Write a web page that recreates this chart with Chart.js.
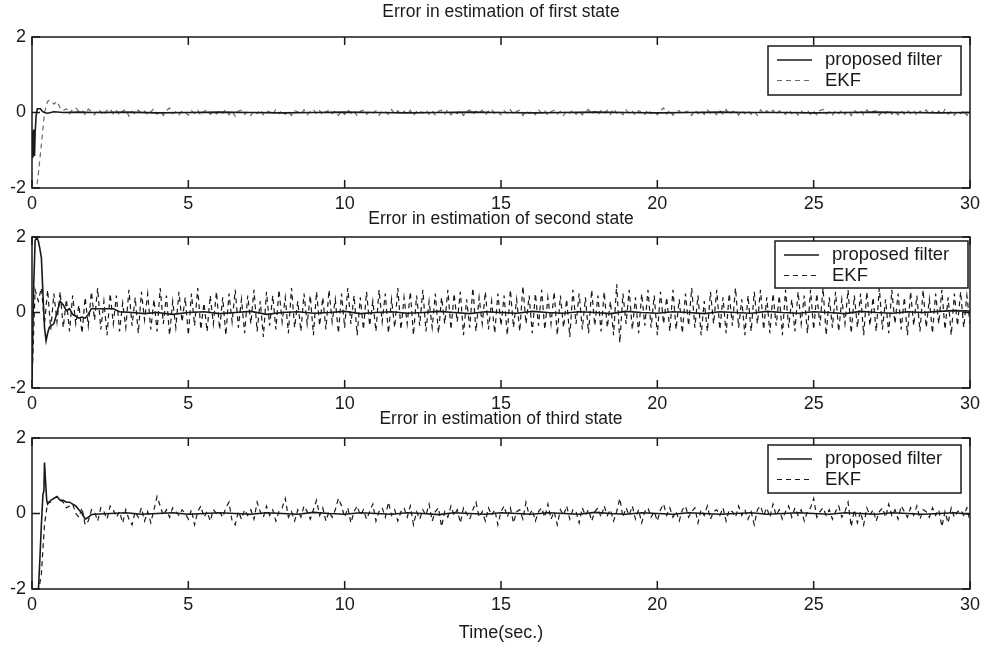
<!DOCTYPE html>
<html>
<head>
<meta charset="utf-8">
<title>Error in estimation of states</title>
<script src="https://cdn.jsdelivr.net/npm/chart.js@4.4.1/dist/chart.umd.min.js"></script>
<style>
    html, body { margin: 0; padding: 0; background: #fff; }
    #wrap { position: relative; width: 982px; height: 655px; overflow: hidden; }
    #wrap canvas { position: absolute; left: 0; }
</style>
</head>
<body>
<div id="wrap">
    <canvas id="state1" width="982" height="216" style="top:2px"></canvas>
    <canvas id="state2" width="982" height="209" style="top:209px"></canvas>
    <canvas id="state3" width="982" height="240" style="top:409px"></canvas>
</div>
<script>
// sample interval of the EKF traces (s)
const SAMPLE_DT = 0.1;

const xTicks = [0, 5, 10, 15, 20, 25, 30];
const yTicks = [-2, 0, 2];
const legendLabels = ['proposed filter', 'EKF'];
const titles = [
    'Error in estimation of first state',
    'Error in estimation of second state',
    'Error in estimation of third state',
];
const xAxisLabel = 'Time(sec.)';

// EKF error, first state (one value every 0.1 s)
const ekf1 = [
    -2.6, -2.3, -1.65, -0.85, 0.0, 0.3, 0.32, 0.22, 0.3, 0.12,
    0.05, 0.1, -0.03, 0.08, 0.12, 0.02, 0.06, -0.05, 0.09, 0.03,
    -0.06, 0.08, 0.02, -0.08, 0.06, 0.1, -0.04, 0.05, -0.07, 0.04,
    0.08, -0.1, 0.03, -0.05, 0.06, -0.02, 0.04, -0.06, 0.02, 0.1,
    -0.04, 0.03, -0.08, 0.05, 0.12, -0.03, 0.02, -0.06, 0.04, 0.0,
    -0.07, 0.05, -0.03, 0.06, -0.08, 0.03, 0.07, -0.05, 0.02, -0.04,
    0.05, -0.02, 0.08, -0.06, 0.03, -0.1, 0.04, 0.06, -0.05, 0.02,
    -0.08, 0.05, -0.03, 0.07, -0.06, 0.04, 0.02, -0.07, 0.09, -0.03,
    0.06, -0.05, 0.03, -0.08, 0.05, 0.02, -0.04, 0.07, -0.06, 0.03,
    0.08, -0.04, 0.05, -0.07, 0.02, 0.06, -0.03, 0.04, -0.08, 0.05,
    -0.05, 0.07, -0.02, 0.04, -0.09, 0.03, 0.06, -0.05, 0.02, -0.03,
    0.05, -0.07, 0.04, 0.02, -0.05, 0.08, -0.03, 0.05, -0.06, 0.03,
    -0.04, 0.06, -0.08, 0.03, 0.05, -0.02, 0.07, -0.05, 0.04, -0.07,
    0.03, 0.06, -0.04, 0.08, -0.06, 0.02, -0.03, 0.05, -0.08, 0.04,
    0.07, -0.05, 0.03, -0.02, 0.06, -0.07, 0.04, 0.09, -0.04, 0.02,
    -0.06, 0.05, -0.03, 0.07, -0.05, 0.03, 0.06, -0.08, 0.04, -0.02,
    0.05, -0.06, 0.08, -0.03, 0.04, -0.07, 0.02, 0.06, -0.04, 0.03,
    -0.08, 0.05, -0.02, 0.07, -0.05, 0.04, -0.06, 0.03, 0.08, -0.04,
    0.03, -0.07, 0.05, -0.03, 0.06, -0.05, 0.1, -0.02, 0.04, -0.06,
    0.07, -0.04, 0.03, -0.08, 0.05, 0.02, -0.05, 0.08, -0.03, 0.04,
    -0.06, 0.05, 0.12, -0.04, 0.06, -0.07, 0.03, 0.05, -0.05, 0.02,
    0.04, -0.08, 0.06, -0.03, 0.05, -0.05, 0.07, -0.02, 0.03, -0.06,
    0.05, -0.04, 0.08, -0.06, 0.02, 0.05, -0.07, 0.04, -0.03, 0.06,
    -0.05, 0.03, -0.08, 0.07, -0.04, 0.05, -0.02, 0.06, -0.06, 0.04,
    0.02, -0.05, 0.07, -0.03, 0.05, -0.07, 0.04, -0.02, 0.06, -0.05,
    0.03, -0.06, 0.05, 0.08, -0.04, 0.02, -0.07, 0.05, -0.03, 0.06,
    -0.05, 0.04, -0.08, 0.06, -0.02, 0.05, -0.06, 0.07, -0.04, 0.03,
    0.05, -0.07, 0.04, -0.03, 0.08, -0.05, 0.02, -0.06, 0.05, -0.04,
    0.06, -0.03, 0.05, -0.08, 0.04, -0.02, 0.07, -0.05, 0.03, -0.06,
    0.04, -0.05, 0.08, -0.04, 0.03, -0.07, 0.05, -0.03, 0.06, -0.08,
    0.02,
];

// EKF error, second state
const ekf2 = [
    -1.8, 0.6, 0.3, 0.65, -0.3, 0.6, -0.45, 0.5, -0.25, 0.55,
    -0.4, 0.35, -0.5, 0.45, -0.3, 0.2, -0.55, 0.4, -0.35, 0.55,
    -0.2, 0.65, -0.45, 0.3, -0.6, 0.5, -0.3, 0.45, -0.5, 0.25,
    -0.4, 0.6, -0.35, 0.4, -0.55, 0.55, -0.2, 0.5, -0.45, 0.35,
    -0.5, 0.65, -0.3, 0.45, -0.6, 0.3, -0.4, 0.55, -0.25, 0.4,
    -0.6, 0.5, -0.35, 0.65, -0.45, 0.25, -0.5, 0.45, -0.3, 0.55,
    -0.45, 0.4, -0.6, 0.5, -0.25, 0.6, -0.4, 0.35, -0.55, 0.45,
    -0.3, 0.6, -0.5, 0.3, -0.65, 0.55, -0.35, 0.45, -0.45, 0.6,
    -0.25, 0.4, -0.55, 0.65, -0.4, 0.3, -0.5, 0.5, -0.3, 0.45,
    -0.6, 0.55, -0.35, 0.4, -0.45, 0.6, -0.25, 0.35, -0.55, 0.5,
    -0.4, 0.65, -0.3, 0.45, -0.6, 0.4, -0.45, 0.55, -0.35, 0.3,
    -0.5, 0.6, -0.25, 0.5, -0.55, 0.35, -0.4, 0.65, -0.45, 0.4,
    -0.3, 0.55, -0.6, 0.45, -0.35, 0.6, -0.5, 0.3, -0.4, 0.5,
    -0.55, 0.4, -0.3, 0.6, -0.45, 0.5, -0.25, 0.55, -0.6, 0.35,
    -0.4, 0.65, -0.5, 0.4, -0.3, 0.55, -0.45, 0.3, -0.55, 0.5,
    -0.35, 0.45, -0.6, 0.6, -0.4, 0.35, -0.5, 0.7, -0.3, 0.45,
    -0.55, 0.5, -0.35, 0.6, -0.45, 0.4, -0.3, 0.55, -0.6, 0.45,
    -0.4, 0.35, -0.65, 0.6, -0.3, 0.5, -0.45, 0.4, -0.55, 0.6,
    -0.35, 0.45, -0.5, 0.55, -0.4, 0.3, -0.6, 0.75, -0.8, 0.5,
    -0.3, 0.6, -0.45, 0.4, -0.55, 0.5, -0.35, 0.6, -0.4, 0.45,
    -0.6, 0.55, -0.3, 0.4, -0.5, 0.6, -0.45, 0.35, -0.55, 0.5,
    -0.35, 0.65, -0.4, 0.45, -0.6, 0.3, -0.5, 0.55, -0.3, 0.6,
    -0.45, 0.4, -0.55, 0.5, -0.35, 0.65, -0.4, 0.35, -0.6, 0.45,
    -0.5, 0.55, -0.3, 0.6, -0.45, 0.4, -0.55, 0.5, -0.35, 0.45,
    -0.6, 0.6, -0.4, 0.35, -0.5, 0.55, -0.3, 0.45, -0.55, 0.6,
    -0.45, 0.5, -0.35, 0.65, -0.6, 0.4, -0.4, 0.55, -0.5, 0.35,
    -0.3, 0.6, -0.55, 0.45, -0.4, 0.5, -0.6, 0.55, -0.35, 0.4,
    -0.5, 0.65, -0.45, 0.35, -0.55, 0.6, -0.3, 0.5, -0.45, 0.4,
    -0.6, 0.55, -0.35, 0.45, -0.5, 0.6, -0.4, 0.35, -0.55, 0.5,
    -0.3, 0.6, -0.45, 0.4, -0.6, 0.5, -0.35, 0.55, -0.4, 0.45,
    -0.3,
];

// EKF error, third state
const ekf3 = [
    -2.8, -2.5, -2.1, -1.6, -0.3, 0.3, 0.3, 0.4, 0.45, 0.35,
    0.3, 0.15, 0.2, 0.25, 0.0, -0.1, 0.15, -0.3, -0.2, 0.1,
    0.05, -0.2, 0.15, 0.05, -0.15, 0.2, 0.1, -0.1, 0.05, -0.25,
    0.1, -0.15, -0.3, 0.05, -0.1, 0.15, -0.2, 0.05, -0.25, 0.1,
    0.45, 0.2, -0.05, 0.1, -0.1, 0.15, 0.05, -0.05, 0.1, 0.0,
    -0.15, 0.1, -0.3, 0.05, 0.2, -0.1, 0.05, -0.2, 0.1, 0.0,
    0.05, -0.1, 0.15, 0.3, -0.2, -0.3, 0.05, -0.15, 0.1, -0.05,
    0.1, -0.15, 0.3, 0.05, -0.1, 0.2, -0.05, 0.1, -0.2, 0.05,
    0.15, 0.4, -0.1, 0.05, -0.2, 0.1, -0.1, 0.2, 0.05, -0.15,
    0.1, 0.35, -0.05, 0.15, -0.2, 0.05, -0.1, 0.1, 0.4, 0.2,
    -0.1, 0.15, -0.25, 0.05, 0.2, -0.05, 0.1, -0.15, 0.05, 0.25,
    -0.2, 0.05, 0.15, -0.1, 0.3, -0.05, 0.1, -0.2, 0.05, 0.15,
    -0.1, 0.2, -0.3, 0.05, -0.15, 0.1, -0.05, 0.25, -0.2, 0.05,
    0.15, -0.35, 0.05, -0.1, 0.2, -0.05, 0.1, -0.25, 0.15, 0.0,
    -0.15, 0.1, 0.3, -0.1, 0.05, -0.2, 0.15, -0.05, 0.1, -0.3,
    0.05, 0.2, -0.1, 0.15, -0.25, 0.05, 0.1, -0.15, 0.3, -0.05,
    0.1, -0.2, 0.05, 0.15, -0.1, 0.25, -0.15, 0.05, -0.3, 0.1,
    -0.05, 0.2, -0.15, 0.1, 0.05, -0.25, 0.15, -0.05, 0.1, -0.2,
    0.05, 0.15, -0.1, 0.2, -0.05, 0.1, -0.2, 0.05, 0.4, -0.1,
    0.15, -0.05, 0.2, -0.15, 0.1, -0.25, 0.05, 0.15, -0.1, 0.05,
    -0.2, 0.1, 0.25, -0.05, 0.15, -0.1, 0.05, -0.2, 0.1, 0.2,
    -0.1, 0.05, 0.15, -0.25, 0.1, -0.05, 0.2, -0.15, 0.05, 0.1,
    -0.05, 0.15, -0.2, 0.1, 0.05, -0.1, 0.2, -0.05, 0.1, -0.15,
    0.05, -0.3, 0.1, 0.2, -0.05, 0.15, -0.1, 0.25, -0.05, 0.1,
    -0.15, 0.05, 0.2, -0.1, 0.15, -0.05, 0.1, -0.2, 0.05, 0.15,
    0.4, -0.1, 0.05, 0.15, -0.05, 0.1, -0.15, 0.05, 0.2, -0.1,
    0.05, 0.3, -0.35, 0.1, -0.25, 0.05, -0.3, 0.15, -0.05, 0.1,
    -0.2, 0.05, 0.15, -0.1, 0.25, -0.05, 0.1, -0.15, 0.2, 0.05,
    -0.1, 0.15, -0.05, 0.2, -0.15, 0.1, 0.05, -0.1, 0.15, -0.05,
    0.1, -0.35, 0.05, -0.25, 0.15, -0.1, 0.05, 0.1, -0.05, 0.15,
    -0.2,
];

// proposed filter, first state (denser during the start-up transient)
const prop1Time = [
    0, 0.03, 0.05, 0.08, 0.1, 0.13, 0.17, 0.22, 0.27, 0.33, 0.4, 0.5, 0.7, 1.0, 1.5,
    2, 3, 4, 5, 6, 7, 8, 9, 10, 11, 12, 13, 14, 15, 16, 17, 18, 19, 20,
    21, 22, 23, 24, 25, 26, 27, 28, 29, 30,
];
const prop1 = [
    -0.5, -1.2, -0.45, -1.15, -0.55, -0.1, 0.1, 0.1, 0.1, 0.03, 0.0, -0.02, 0.02, 0.0, 0.01,
    0.0, 0.01, -0.01, 0.0, 0.01, 0.0, -0.01, 0.0, 0.01, 0.0, -0.01, 0.0, 0.01, 0.0, -0.01,
    0.0, 0.01, 0.0, -0.01, 0.0, 0.01, 0.0, 0.0, -0.01, 0.0, 0.01, 0.0, -0.01, 0.0,
];

// proposed filter, second state
const prop2Time = [
    0, 0.05, 0.1, 0.15, 0.2, 0.25, 0.3, 0.35, 0.4, 0.45, 0.5, 0.55, 0.6, 0.7, 0.8, 0.9,
    1.0, 1.1, 1.2, 1.3, 1.4, 1.5, 1.6, 1.7, 1.8, 1.9, 2.2, 2.6, 2.8, 3.2, 3.6,
    4, 4.5, 5, 5.5, 6, 6.5, 7, 7.5, 8, 8.5, 9, 9.5, 10, 10.5, 11, 11.5, 12, 12.5,
    13, 13.5, 14, 14.5, 15, 15.5, 16, 16.5, 17, 17.5, 18, 18.5, 19, 19.5, 20, 20.5,
    21, 21.5, 22, 22.5, 23, 23.5, 24, 24.5, 25, 25.5, 26, 26.5, 27, 27.5, 28, 28.5,
    29, 29.5, 30,
];
const prop2 = [
    -1.8, 0.6, 1.9, 2.0, 1.9, 1.7, 1.45, 0.5, -0.4, -0.75, -0.55, -0.4, -0.35, -0.3, 0.0, 0.3,
    0.2, 0.05, 0.1, -0.05, -0.1, -0.15, -0.12, -0.15, -0.05, 0.1, 0.1, 0.1, 0.02, 0.0, -0.03,
    0.0, -0.05, 0.0, 0.02, -0.03, 0.0, 0.03, -0.05, 0.0, 0.02, -0.02, 0.0, 0.03, -0.03,
    0.0, 0.02, -0.02, 0.0, 0.03, 0.0, -0.03, 0.02, 0.0, -0.02, 0.03, 0.0, -0.02, 0.02,
    0.0, -0.03, 0.03, 0.0, -0.02, 0.02, 0.0, -0.03, 0.02, 0.0, -0.02, 0.03, 0.0, -0.02,
    0.02, 0.0, -0.03, 0.03, 0.0, -0.02, 0.02, 0.0, 0.03, 0.05, 0.04,
];

// proposed filter, third state
const prop3Time = [
    0, 0.1, 0.2, 0.25, 0.3, 0.35, 0.38, 0.4, 0.43, 0.47, 0.5, 0.6, 0.7, 0.8, 0.9,
    1.0, 1.1, 1.2, 1.3, 1.4, 1.5, 1.6, 1.7, 1.8, 1.9, 2.0, 2.5, 3.0, 3.5,
    4, 4.5, 5, 5.5, 6, 6.5, 7, 7.5, 8, 8.5, 9, 9.5, 10, 10.5, 11, 11.5, 12, 12.5,
    13, 13.5, 14, 14.5, 15, 15.5, 16, 16.5, 17, 17.5, 18, 18.5, 19, 19.5, 20, 20.5,
    21, 21.5, 22, 22.5, 23, 23.5, 24, 24.5, 25, 25.5, 26, 26.5, 27, 27.5, 28, 28.5,
    29, 29.5, 30,
];
const prop3 = [
    -2.8, -2.5, -2.1, -1.25, -0.3, 0.5, 0.6, 1.35, 0.9, 0.35, 0.25, 0.35, 0.4, 0.45, 0.35,
    0.35, 0.3, 0.3, 0.25, 0.2, 0.1, 0.0, -0.15, -0.1, -0.03, -0.02, 0.0, 0.02, -0.02,
    0.0, 0.02, -0.02, 0.0, 0.02, 0.0, -0.02, 0.02, 0.0, -0.02, 0.03, 0.0, -0.02, 0.02,
    0.0, -0.02, 0.02, 0.0, -0.03, 0.02, 0.0, -0.02, 0.02, 0.0, -0.02, 0.02, 0.0, -0.02,
    0.03, 0.0, -0.02, 0.02, 0.0, -0.02, 0.02, 0.0, -0.02, 0.0, 0.02, -0.02, 0.0, 0.02,
    0.0, -0.02, 0.02, 0.0, -0.02, 0.02, 0.0, -0.02, 0.0, 0.02, -0.02, 0.0,
];

const FONT = "'Liberation Sans', Arial, Helvetica, sans-serif";
const INK = '#1a1a1a';

function toPoints(times, values) {
    return times.map(function (t, i) {
        return { x: t, y: values[i] };
    });
}

function ekfTimes(values) {
    return values.map(function (_, i) {
        return Math.round(i * SAMPLE_DT * 10) / 10;
    });
}

// box + inward tick marks on all four sides, the way matlab draws axes
const matlabAxes = {
    id: 'matlabAxes',
    afterDatasetsDraw(chart) {
        const ctx = chart.ctx;
        const a = chart.chartArea;
        const x = chart.scales.x;
        const y = chart.scales.y;
        ctx.save();
        ctx.strokeStyle = INK;
        ctx.lineWidth = 1.5;
        ctx.setLineDash([]);
        ctx.strokeRect(a.left, a.top, a.right - a.left, a.bottom - a.top);
        ctx.beginPath();
        x.ticks.forEach(function (t) {
            const px = x.getPixelForValue(t.value);
            ctx.moveTo(px, a.bottom);
            ctx.lineTo(px, a.bottom - 8);
            ctx.moveTo(px, a.top);
            ctx.lineTo(px, a.top + 8);
        });
        y.ticks.forEach(function (t) {
            const py = y.getPixelForValue(t.value);
            ctx.moveTo(a.left, py);
            ctx.lineTo(a.left + 8, py);
            ctx.moveTo(a.right, py);
            ctx.lineTo(a.right - 8, py);
        });
        ctx.stroke();
        ctx.restore();
    },
};

// framed legend sitting inside the plot, top right
const boxLegend = {
    id: 'boxLegend',
    afterDraw(chart, args, opts) {
        const ctx = chart.ctx;
        const a = chart.chartArea;
        const left = a.right - opts.right - opts.width;
        const top = a.top + opts.top;
        ctx.save();
        ctx.fillStyle = '#fff';
        ctx.fillRect(left, top, opts.width, opts.height);
        ctx.strokeStyle = INK;
        ctx.lineWidth = 1.5;
        ctx.setLineDash([]);
        ctx.strokeRect(left, top, opts.width, opts.height);
        ctx.font = '18.5px ' + FONT;
        ctx.textBaseline = 'middle';
        ctx.textAlign = 'left';
        chart.data.datasets.forEach(function (ds, i) {
            const cy = top + 14 + i * 20.5;
            ctx.strokeStyle = ds.borderColor;
            ctx.lineWidth = ds.borderWidth;
            ctx.setLineDash(ds.borderDash || []);
            ctx.beginPath();
            ctx.moveTo(left + 9, cy);
            ctx.lineTo(left + 44, cy);
            ctx.stroke();
            ctx.fillStyle = INK;
            ctx.fillText(ds.label, left + 57, cy);
        });
        ctx.restore();
    },
};

function makeChart(canvasId, cfg) {
    const canvas = document.getElementById(canvasId);
    return new Chart(canvas.getContext('2d'), {
        type: 'line',
        data: {
            datasets: [
                {
                    label: legendLabels[0],
                    data: toPoints(cfg.propTime, cfg.prop),
                    borderColor: INK,
                    borderWidth: 1.6,
                    pointRadius: 0,
                    tension: 0,
                    order: 0,
                },
                {
                    label: legendLabels[1],
                    data: toPoints(ekfTimes(cfg.ekf), cfg.ekf),
                    borderColor: cfg.ekfColor,
                    borderWidth: 1.2,
                    borderDash: [5, 4],
                    pointRadius: 0,
                    tension: 0,
                    order: 1,
                },
            ],
        },
        options: {
            responsive: false,
            animation: false,
            devicePixelRatio: 1,
            layout: { padding: { left: 0, right: 12, top: 0, bottom: 0 } },
            plugins: {
                legend: { display: false },
                tooltip: { enabled: false },
                title: {
                    display: true,
                    text: cfg.title,
                    fullSize: false,
                    color: INK,
                    font: { family: FONT, size: 17.5, weight: 'normal', lineHeight: '20px' },
                    padding: { top: 0, bottom: cfg.titleGap },
                },
                boxLegend: cfg.legendBox,
            },
            scales: {
                x: {
                    type: 'linear',
                    min: 0,
                    max: 30,
                    afterBuildTicks: function (scale) {
                        scale.ticks = xTicks.map(function (v) {
                            return { value: v };
                        });
                    },
                    afterFit: function (scale) {
                        scale.height = cfg.xAxisHeight;
                        scale.paddingLeft = 0;
                        scale.paddingRight = 0;
                    },
                    grid: { display: false, drawTicks: false },
                    border: { display: false },
                    ticks: {
                        padding: 5,
                        color: INK,
                        maxRotation: 0,
                        autoSkip: false,
                        font: { family: FONT, size: 18 },
                    },
                    title: {
                        display: !!cfg.xTitle,
                        text: cfg.xTitle || '',
                        color: INK,
                        font: { family: FONT, size: 18, lineHeight: '20px' },
                        padding: { top: 0, bottom: 6 },
                    },
                },
                y: {
                    min: -2,
                    max: 2,
                    afterBuildTicks: function (scale) {
                        scale.ticks = yTicks.map(function (v) {
                            return { value: v };
                        });
                    },
                    afterFit: function (scale) {
                        scale.width = 32;
                        scale.paddingTop = 0;
                        scale.paddingBottom = 0;
                    },
                    grid: { display: false, drawTicks: false },
                    border: { display: false },
                    ticks: {
                        padding: 6,
                        color: INK,
                        font: { family: FONT, size: 18 },
                    },
                },
            },
        },
        plugins: [matlabAxes, boxLegend],
    });
}

makeChart('state1', {
    title: titles[0],
    titleGap: 15,
    ekf: ekf1,
    ekfColor: '#6a6a6a',
    propTime: prop1Time,
    prop: prop1,
    xAxisHeight: 30,
    legendBox: { right: 9, top: 9, width: 193, height: 49 },
});

makeChart('state2', {
    title: titles[1],
    titleGap: 8,
    ekf: ekf2,
    ekfColor: INK,
    propTime: prop2Time,
    prop: prop2,
    xAxisHeight: 30,
    legendBox: { right: 2, top: 4, width: 193, height: 47 },
});

makeChart('state3', {
    title: titles[2],
    titleGap: 9,
    ekf: ekf3,
    ekfColor: INK,
    propTime: prop3Time,
    prop: prop3,
    xAxisHeight: 60,
    xTitle: xAxisLabel,
    legendBox: { right: 9, top: 7, width: 193, height: 48 },
});
</script>
</body>
</html>
